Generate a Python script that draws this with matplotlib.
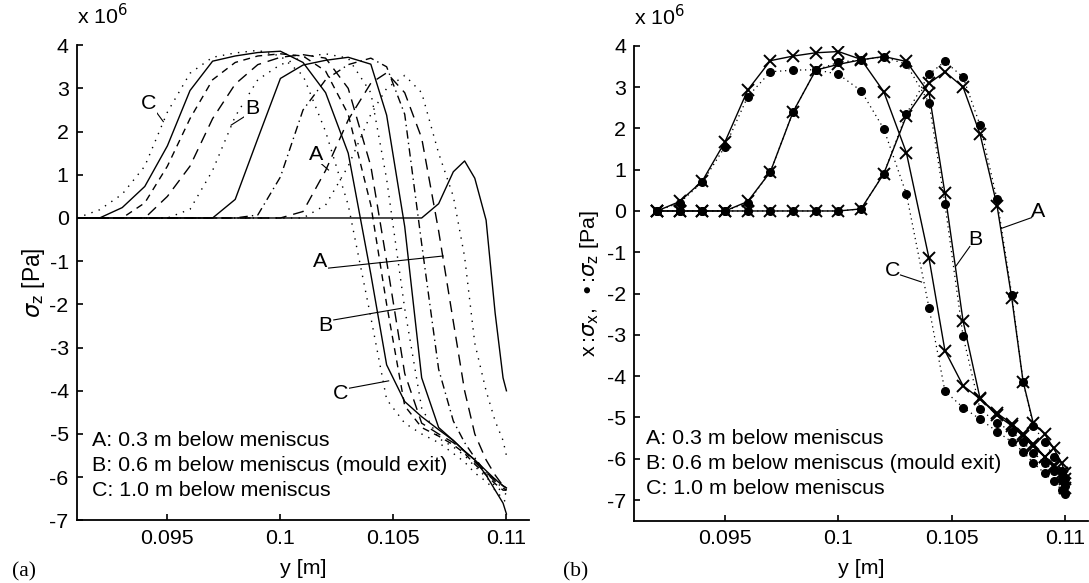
"""Two-panel stress profile through the shell: (a) sigma_z curves, (b) sigma_x vs sigma_z."""

import matplotlib
matplotlib.use("Agg")
import matplotlib.pyplot as plt

plt.rcParams["font.family"] = ["Liberation Sans", "DejaVu Sans"]
plt.rcParams["axes.unicode_minus"] = False
plt.rcParams["mathtext.fontset"] = "dejavusans"

FS = 15.4

# ---- panel (a): sigma_z [1e6 Pa] on a shared y grid ----
Y_A = [0.091, 0.092, 0.093, 0.094, 0.095, 0.096, 0.097, 0.098, 0.099, 0.100,
       0.101, 0.102, 0.103, 0.104, 0.1047, 0.1055, 0.10625, 0.107, 0.10765,
       0.10815, 0.1086, 0.1091, 0.1095, 0.10985, 0.110]

SZ_1 = [0, 0.19, 0.55, 1.2, 2.45, 3.35, 3.72, 3.82, 3.88, 3.75, 3.3, 2.0, 0.3, -2.3,
        -4.2, -4.75, -5.0, -5.2, -5.45, -5.65, -5.9, -6.1, -6.3, -6.5, -6.6]
SZ_2 = [0, 0, 0.24, 0.73, 1.67, 2.95, 3.63, 3.75, 3.83, 3.86, 3.6, 2.9, 1.5, -1.3,
        -3.4, -4.25, -4.6, -4.9, -5.15, -5.4, -5.6, -5.95, -6.3, -6.6, -6.85]
SZ_3 = [0, 0, 0, 0.35, 1.2, 2.3, 3.2, 3.6, 3.75, 3.8, 3.75, 3.4, 2.4, 0.3,
        -2.0, -4.35, -4.85, -5.05, -5.25, -5.45, -5.7, -5.95, -6.15, -6.3, -6.3]
SZ_4 = [0, 0, 0, 0, 0.5, 1.2, 2.3, 3.1, 3.55, 3.72, 3.78, 3.7, 3.0, 1.2,
        -1.0, -3.6, -4.75, -5.0, -5.2, -5.4, -5.65, -5.9, -6.05, -6.2, -6.25]
SZ_5 = [0, 0, 0, 0, 0, 0.2, 1.1, 2.35, 3.2, 3.55, 3.72, 3.8, 3.7, 2.9,
        0.9, -2.1, -4.4, -5.1, -5.3, -5.5, -5.75, -6.0, -6.2, -6.35, -6.4]
SZ_6 = [0, 0, 0, 0, 0, 0, 0, 0.43, 1.84, 3.23, 3.54, 3.65, 3.72, 3.56,
        2.38, -0.2, -3.7, -4.85, -5.15, -5.4, -5.6, -5.85, -6.05, -6.2, -6.25]
SZ_7 = [0, 0, 0, 0, 0, 0, 0, 0, 0.07, 0.95, 2.5, 3.2, 3.55, 3.7,
        3.5, 2.4, -0.6, -3.5, -4.7, -5.2, -5.55, -5.9, -6.1, -6.25, -6.3]
SZ_8 = [0, 0, 0, 0, 0, 0, 0, 0, 0, 0, 0.15, 1.1, 2.27, 3.12,
        3.36, 2.9, 1.85, -0.3, -2.4, -4.0, -5.0, -5.6, -5.95, -6.2, -6.3]
SZ_9 = [0, 0, 0, 0, 0, 0, 0, 0, 0, 0, 0, 0.3, 1.2, 2.4,
        3.0, 3.3, 2.9, 1.5, 0.5, -0.9, -2.9, -4.0, -4.7, -5.15, -5.5]
SZ_10 = [0, 0, 0, 0, 0, 0, 0, 0, 0, 0, 0, 0, 0, 0,
         0, 0, 0, 0.33, 1.07, 1.32, 0.92, -0.05, -2.2, -3.7, -4.0]

# ---- panel (b): x = sigma_x, dot = sigma_z [1e6 Pa] ----
Y_B = [0.092, 0.093, 0.094, 0.095, 0.096, 0.097, 0.098, 0.099, 0.100, 0.101,
       0.102, 0.103, 0.104, 0.1047, 0.1055, 0.10625, 0.107, 0.10765, 0.10815,
       0.1086, 0.1091, 0.1095, 0.10985, 0.110]

SX_A = [0, 0, 0, 0, 0, 0, 0, 0, 0, 0.05, 0.9, 2.3, 3.09,
        3.37, 3.0, 1.86, 0.13, -2.11, -4.13, -5.14, -5.4, -5.75, -6.1, -6.35]
SZ_A = [0, 0, 0, 0, 0, 0, 0, 0, 0, 0.05, 0.9, 2.35, 3.31,
        3.62, 3.24, 2.08, 0.28, -2.03, -4.13, -5.2, -5.6, -5.95, -6.3, -6.5]
SX_B = [0, 0, 0, 0, 0.23, 0.95, 2.40, 3.41, 3.55, 3.66, 3.74, 3.62, 2.85,
        0.43, -2.66, -4.54, -4.95, -5.2, -5.45, -5.7, -5.95, -6.15, -6.35, -6.5]
SZ_B = [0, 0, 0, 0, 0.2, 0.95, 2.4, 3.41, 3.6, 3.66, 3.73, 3.55, 2.62,
        0.17, -3.03, -4.8, -5.13, -5.34, -5.6, -5.85, -6.1, -6.3, -6.5, -6.65]
SX_C = [0, 0.23, 0.73, 1.68, 2.93, 3.64, 3.75, 3.83, 3.86, 3.67, 2.89, 1.41, -1.15,
        -3.38, -4.23, -4.55, -4.9, -5.15, -5.4, -5.65, -5.95, -6.2, -6.45, -6.7]
SZ_C = [0, 0.2, 0.7, 1.56, 2.77, 3.37, 3.41, 3.42, 3.31, 2.91, 1.99, 0.41, -2.35,
        -4.36, -4.76, -5.04, -5.34, -5.59, -5.83, -6.1, -6.35, -6.55, -6.75, -6.85]

LEGEND_LINES = ["A: 0.3 m below meniscus",
                "B: 0.6 m below meniscus (mould exit)",
                "C: 1.0 m below meniscus"]
X_TICKS = [0.095, 0.1, 0.105, 0.11]
X_TICKLABELS = ["0.095", "0.1", "0.105", "0.11"]

DOT = (0, (1.0, 4.5))
styles_a = [DOT, "-", (0, (5, 4)), (0, (8, 5)), DOT, "-", (0, (6, 3, 1, 3)),
            (0, (8, 5)), DOT, "-"]


def style_axes(ax, ylim):
    ax.set_xlim(0.091, 0.111)
    ax.set_ylim(*ylim)
    for side in ("top", "right"):
        ax.spines[side].set_visible(False)
    for side in ("left", "bottom"):
        ax.spines[side].set_linewidth(1.3)
    ax.set_xticks(X_TICKS)
    ax.set_xticklabels(X_TICKLABELS)
    ax.set_yticks(range(-7, 5))
    ax.tick_params(direction="in", length=4, width=1.2, labelsize=FS, pad=6)
    ax.set_xlabel("y [m]", fontsize=FS, labelpad=8)
    ax.text(0.0, 1.035, r"x 10$^{6}$", transform=ax.transAxes, fontsize=FS,
            ha="left", va="bottom")


fig = plt.figure(figsize=(10.89, 5.83), dpi=100)
ax1 = fig.add_axes([0.0707, 0.1074, 0.4151, 0.8151])
ax2 = fig.add_axes([0.5826, 0.1068, 0.4162, 0.8147])

# (a)
curves = [SZ_1, SZ_2, SZ_3, SZ_4, SZ_5, SZ_6, SZ_7, SZ_8, SZ_9, SZ_10]
for sz, ls in zip(curves, styles_a):
    ax1.plot(Y_A, sz, color="black", lw=1.0, linestyle=ls)
style_axes(ax1, (-7, 4))
ax1.set_ylabel(r"$\sigma_{\rm z}$ [Pa]", fontsize=FS + 1, labelpad=2)

# leader labels: (text pos, line start, line end)
labels_a = [
    ("C", (0.09418, 2.65), (0.09444, 2.50), (0.09482, 2.23)),
    ("B", (0.09874, 2.54), (0.09851, 2.38), (0.09782, 2.15)),
    ("A", (0.10159, 1.48), (0.10182, 1.25), (0.10213, 1.11)),
    ("A", (0.10175, -1.01), (0.10213, -1.16), (0.1072, -0.88)),
    ("B", (0.10200, -2.48), (0.10236, -2.36), (0.10536, -2.09)),
    ("C", (0.10268, -4.06), (0.10305, -3.94), (0.10479, -3.77)),
]
for txt, tp, p0, p1 in labels_a:
    ax1.plot([p0[0], p1[0]], [p0[1], p1[1]], color="black", lw=0.8)
    ax1.text(tp[0], tp[1], txt, fontsize=FS, ha="center", va="center",
             bbox=dict(facecolor="white", edgecolor="none", pad=0.5))

for i, line in enumerate(LEGEND_LINES):
    ax1.text(0.09167, -5.14 - 0.58 * i, line, fontsize=FS, ha="left", va="center")

# (b)
for sx, sz in [(SX_A, SZ_A), (SX_B, SZ_B), (SX_C, SZ_C)]:
    ax2.plot(Y_B, sz, color="black", lw=0.9, linestyle=(0, (1, 3)),
             marker="o", ms=5.5, mfc="black", mec="black")
    ax2.plot(Y_B, sx, color="black", lw=1.0, linestyle="-",
             marker="x", ms=9, mew=1.4, mec="black")
style_axes(ax2, (-7.5, 4))
ax2.set_ylabel(r"x$\,$:$\sigma_{\rm x}$,  $\bullet$:$\sigma_{\rm z}$ [Pa]",
               fontsize=FS, labelpad=4)

labels_b = [
    ("A", (0.10882, -0.02), (0.10853, -0.16), (0.1072, -0.42)),
    ("B", (0.10603, -0.70), (0.1058, -0.86), (0.10519, -1.33)),
    ("C", (0.10241, -1.43), (0.10274, -1.55), (0.10367, -1.72)),
]
for txt, tp, p0, p1 in labels_b:
    ax2.plot([p0[0], p1[0]], [p0[1], p1[1]], color="black", lw=0.8)
    ax2.text(tp[0], tp[1], txt, fontsize=FS, ha="center", va="center")

for i, line in enumerate(LEGEND_LINES):
    ax2.text(0.0915, -5.50 - 0.605 * i, line, fontsize=FS, ha="left", va="center")

fig.text(12 / 1089, 1 - 572 / 583, "(a)", family="Liberation Serif", fontsize=FS,
         ha="left", va="center")
fig.text(563 / 1089, 1 - 572 / 583, "(b)", family="Liberation Serif", fontsize=FS,
         ha="left", va="center")

fig.savefig("out.png", dpi=100)
